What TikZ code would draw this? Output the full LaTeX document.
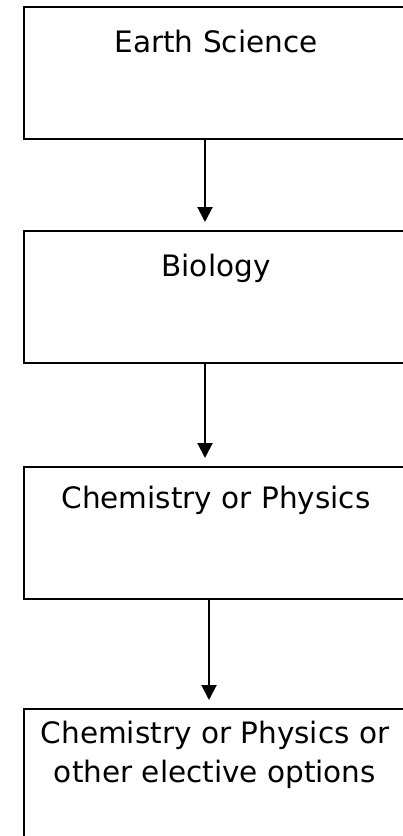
\documentclass[tikz,border=0pt]{standalone}
\usepackage{fontspec}
\setmainfont{DejaVu Sans}
\usetikzlibrary{arrows.meta}

\begin{document}
\begin{tikzpicture}[x=1pt, y=-1pt,
    course/.style={draw, line width=2pt, minimum width=386pt, minimum height=132pt,
        inner sep=0pt, outer sep=0pt},
    lbl/.style={font=\fontsize{29.5}{39}\selectfont, anchor=base, align=center, inner sep=0pt},
    flow/.style={-{Triangle[length=15pt,width=15pt]}, line width=2pt, shorten >=9pt}]
    \useasboundingbox (0,0) rectangle (402,836);

    % Boxes (right side runs off the page)
    \node[course] (earth) at (217,72.5) {};
    \node[course] (bio)   at (217,297)  {};
    \node[course] (chem)  at (217,533)  {};
    \node[course] (elec)  at (217,775)  {};

    % Course names
    \node[lbl] (tearth) at (216,52)  {Earth Science};
    \node[lbl] (tbio)   at (216,276) {Biology};
    \node[lbl] (tchem)  at (216,508) {Chemistry or Physics};
    \node[lbl] (telec)  at (215,782) {Chemistry or Physics or\\other elective options};

    % Arrows
    \coordinate (xa) at (205,0);
    \coordinate (xb) at (209,0);
    \draw[flow] (earth.south -| xa) -- (bio.north -| xa);
    \draw[flow] (bio.south -| xa) -- (chem.north -| xa);
    \draw[flow] (chem.south -| xb) -- (elec.north -| xb);
\end{tikzpicture}
\end{document}
